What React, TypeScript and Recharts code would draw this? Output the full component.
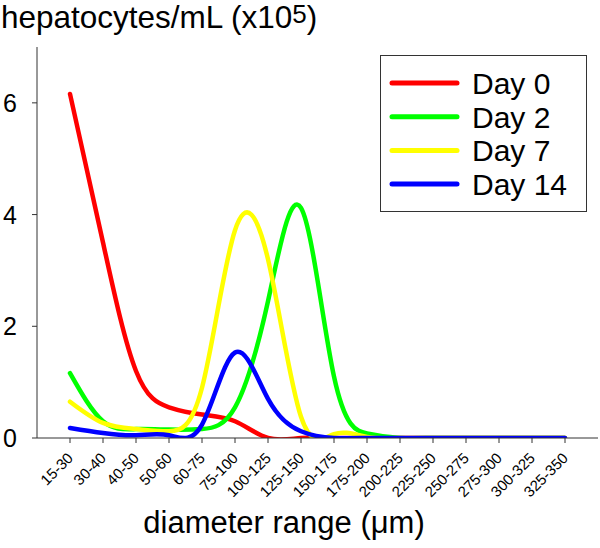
import { Legend, Line, LineChart, XAxis, YAxis } from "recharts";

const categories = [
  "15-30", "30-40", "40-50", "50-60", "60-75", "75-100", "100-125", "125-150",
  "150-175", "175-200", "200-225", "225-250", "250-275", "275-300", "300-325", "325-350",
];

// hepatocytes/mL (x10^5) per diameter range
const day0 = [6.16, 3.5, 1.2, 0.55, 0.42, 0.3, 0, 0, 0, 0, 0, 0, 0, 0, 0, 0];
const day2 = [1.16, 0.3, 0.16, 0.15, 0.16, 0.55, 2.45, 4.12, 1.1, 0.08, 0, 0, 0, 0, 0, 0];
const day7 = [0.65, 0.27, 0.16, 0.12, 0.9, 3.72, 3.2, 0.38, 0.07, 0.02, 0, 0, 0, 0, 0, 0];
const day14 = [0.18, 0.09, 0.05, 0.05, 0.24, 1.53, 0.7, 0.12, 0, 0, 0, 0, 0, 0, 0, 0];

const yTicks = [0, 2, 4, 6];

const series = [
  { key: "day0", name: "Day 0", color: "#ff0000" },
  { key: "day2", name: "Day 2", color: "#00ff00" },
  { key: "day7", name: "Day 7", color: "#ffff00" },
  { key: "day14", name: "Day 14", color: "#0000ff" },
];

const data = categories.map((c, i) => ({
  x: i,
  label: c,
  day0: day0[i],
  day2: day2[i],
  day7: day7[i],
  day14: day14[i],
}));

const FONT = "'Liberation Sans', Arial, sans-serif";
const AXIS = "#333";

function XTick({ x, y, payload }: any) {
  const tx = x + 4;
  const ty = y + 14;
  return (
    <text
      x={tx}
      y={ty}
      transform={`rotate(-45, ${tx}, ${ty})`}
      textAnchor="end"
      fontSize={15}
      fontFamily={FONT}
      fill="#000"
    >
      {categories[payload.value]}
    </text>
  );
}

function YTick({ x, y, payload }: any) {
  return (
    <text x={x} y={y + 9} textAnchor="end" fontSize={25} fontFamily={FONT} fill="#000">
      {payload.value}
    </text>
  );
}

function LegendBox() {
  return (
    <div style={{ border: `1px solid ${AXIS}`, width: 205, height: 155, background: "#fff" }}>
      <svg width={205} height={155}>
        {series.map((s, i) => {
          const cy = 27 + i * 33.7;
          return (
            <g key={s.key}>
              <line x1={11} x2={76} y1={cy} y2={cy} stroke={s.color} strokeWidth={5} strokeLinecap="round" />
              <text x={91} y={cy + 11} fontSize={30} fontFamily={FONT} fill="#000">
                {s.name}
              </text>
            </g>
          );
        })}
      </svg>
    </div>
  );
}

export default function App() {
  return (
    <div style={{ position: "absolute", left: 0, top: 0, width: 600, height: 548, background: "#fff" }}>
      <LineChart width={600} height={548} data={data} margin={{ top: 47, right: 2, bottom: 0, left: 0 }}>
        <XAxis
          dataKey="x"
          type="number"
          domain={[-1, 16]}
          ticks={categories.map((_, i) => i)}
          interval={0}
          height={110}
          stroke={AXIS}
          tickSize={5}
          tick={<XTick />}
          label={() => (
            <text x={284} y={533} textAnchor="middle" fontSize={31} fontFamily={FONT} fill="#000">
              diameter range (μm)
            </text>
          )}
        />
        <XAxis xAxisId="top" orientation="top" type="number" domain={[-1, 16]} height={0} tick={false} tickLine={false} stroke={AXIS} />
        <YAxis
          type="number"
          domain={[0, 7]}
          ticks={yTicks}
          allowDataOverflow
          width={37}
          stroke={AXIS}
          tickSize={5}
          tickMargin={15}
          tick={<YTick />}
          label={() => (
            <text x={1} y={28} fontSize={31.5} fontFamily={FONT} fill="#000">
              hepatocytes/mL (x10
              <tspan dy={-5} fontSize={26}>5</tspan>
              <tspan dy={5}>)</tspan>
            </text>
          )}
        />
        <YAxis yAxisId="right" orientation="right" domain={[0, 7]} width={0} tick={false} tickLine={false} stroke={AXIS} />
        <Legend
          layout="vertical"
          align="center"
          verticalAlign="middle"
          wrapperStyle={{ position: "absolute", left: 380, top: 55, width: 207, height: 157 }}
          content={() => <LegendBox />}
        />
        {series.map((s) => (
          <Line
            key={s.key}
            dataKey={s.key}
            name={s.name}
            type="natural"
            stroke={s.color}
            strokeWidth={4.5}
            strokeLinecap="round"
            strokeLinejoin="round"
            dot={false}
            activeDot={false}
            isAnimationActive={false}
          />
        ))}
      </LineChart>
    </div>
  );
}
